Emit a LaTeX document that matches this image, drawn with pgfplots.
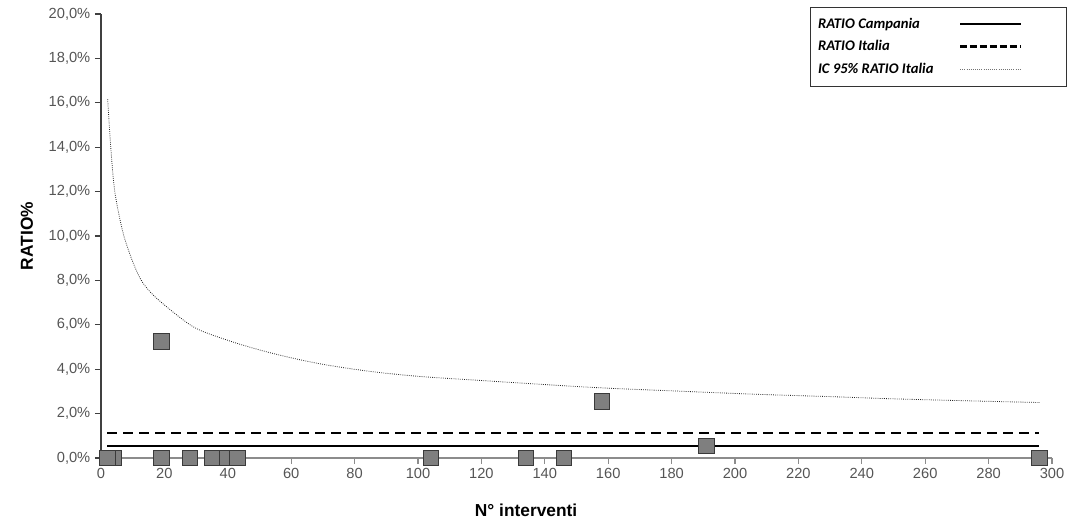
\documentclass[border=0pt]{standalone}
\usepackage{pgfplots}
\pgfplotsset{compat=1.18}
\usepackage{fontspec}
\setmainfont{Liberation Sans}
\newfontfamily\legfont{Carlito}
\definecolor{tickgray}{HTML}{555555}
\definecolor{axgray}{HTML}{8C8C8C}
\definecolor{boxfill}{HTML}{7F7F7F}
\definecolor{boxdraw}{HTML}{3A3A3A}

\begin{document}
\begin{tikzpicture}
\useasboundingbox (-75.75pt,-49.5pt) rectangle (731.25pt,343.5pt);
\begin{axis}[
    at={(0,0)}, anchor=south west,
    scale only axis,
    width=713.25pt, height=333pt,
    xmin=0, xmax=300,
    ymin=0, ymax=20,
    axis x line=bottom,
    axis y line=left,
    axis line style={-},
    x axis line style={axgray, line width=0.8pt},
    y axis line style={black!75, line width=0.8pt},
    xtick={0,20,...,300},
    ytick={0,2,...,20},
    tick align=outside,
    major tick length=4.5pt,
    xtick style={axgray, line width=0.8pt},
    ytick style={black!75, line width=0.8pt},
    /pgf/number format/assume math mode=true,
    tick label style={font=\fontsize{11}{13}\selectfont, text=tickgray},
    yticklabel={\pgfmathprintnumber[fixed,fixed zerofill,precision=1,use comma]{\tick}\%},
    xlabel={N° interventi},
    ylabel={RATIO\%},
    label style={font=\fontsize{13}{15}\selectfont\bfseries},
    xlabel style={at={(axis description cs:0.447,-0.117)}, anchor=center},
    ylabel style={at={(axis description cs:-0.078,0.5)}, anchor=center},
    legend plot pos=right,
    legend cell align=left,
    legend image code/.code={\draw[#1] (0pt,0pt) -- (46pt,0pt); \path[draw=none] (0pt,0pt) -- (76pt,0pt);},
    legend style={
        at={(rel axis cs:1.016,1.016)}, anchor=north east,
        draw=black!80, line width=0.6pt,
        font=\legfont\bfseries\itshape\fontsize{11}{13}\selectfont,
        inner xsep=4pt, inner ysep=6pt,
        row sep=3.8pt, column sep=17pt,
    },
    clip=false,
]

% interventi per struttura
\addplot[only marks, mark=square*, mark size=5.8pt,
    mark options={fill=boxfill, draw=boxdraw, line width=0.6pt}, forget plot]
coordinates {
    (4,0) (39,0) (2,0) (19,0) (19,5.25) (28,0) (35,0) (43,0)
    (104,0) (134,0) (146,0) (158,2.55) (191,0.55) (296,0)
};

\addplot[black, line width=2pt]
coordinates {(2,0.54) (296,0.54)};
\addlegendentry{RATIO Campania}

\addplot[black, line width=2pt, dash pattern=on 7.5pt off 4.5pt,
    legend image code/.code={\draw[black, line width=2pt, dash pattern=on 5pt off 2.5pt] (0pt,0pt) -- (46pt,0pt); \path[draw=none] (0pt,0pt) -- (76pt,0pt);}]
coordinates {(2,1.13) (296,1.13)};
\addlegendentry{RATIO Italia}

\addplot[black!85, line width=0.6pt, densely dotted, smooth,
    legend image code/.code={\draw[black!55, line width=0.6pt, densely dotted] (0pt,0pt) -- (46pt,0pt); \path[draw=none] (0pt,0pt) -- (76pt,0pt);}]
coordinates {
    (2.1,16.16) (3.15,13.87) (4.4,11.95) (7.0,10.12) (10.2,8.77) (13.3,7.87)
    (18.3,7.1) (29.1,5.91) (39.6,5.32) (50.2,4.86) (60.7,4.49) (71.2,4.19)
    (85,3.9) (100,3.68) (120,3.49) (155,3.18) (182.6,3.01) (206.8,2.87)
    (231,2.76) (251,2.66) (283.6,2.54) (296.2,2.5)
};
\addlegendentry{IC 95\% RATIO Italia}

\end{axis}
\end{tikzpicture}
\end{document}
